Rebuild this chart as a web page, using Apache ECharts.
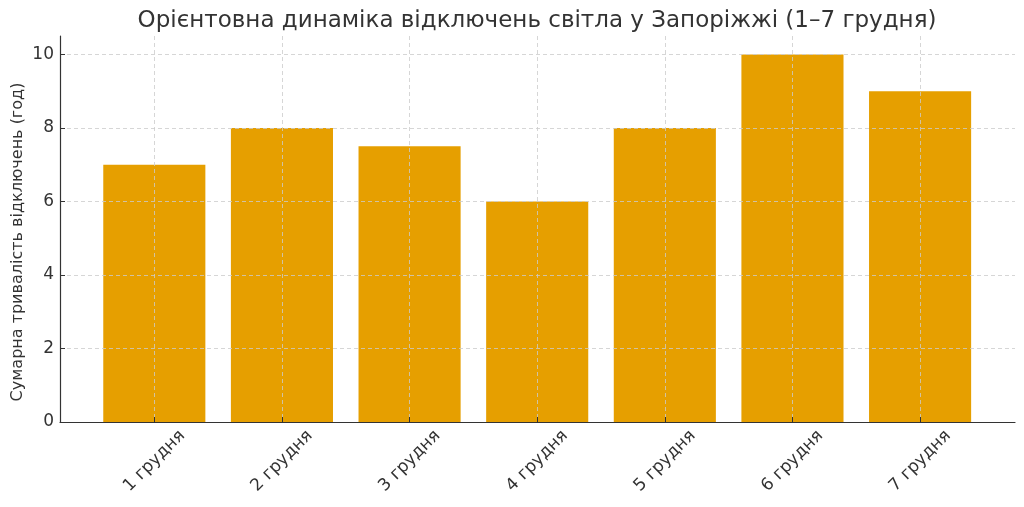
<!DOCTYPE html>
<html>
<head>
<meta charset="utf-8">
<script src="https://cdn.jsdelivr.net/npm/echarts@6/dist/echarts.min.js"></script>
<style>html,body{margin:0;padding:0;background:#fff}#c{width:1024px;height:507px}</style>
</head>
<body>
<div id="c"></div>
<script>
const title = 'Орієнтовна динаміка відключень світла у Запоріжжі (1–7 грудня)';
const yLabel = 'Сумарна тривалість відключень (год)';
const categories = ['1 грудня', '2 грудня', '3 грудня', '4 грудня', '5 грудня', '6 грудня', '7 грудня'];
const hours = [7, 8, 7.5, 6, 8, 10, 9];
const yTickMax = 10;
const yAxisMax = 10.5;
const yTickStep = 2;

const FONT = 'DejaVu Sans';
const TXT = '#333333';
const AX = '#333333';
const GRIDC = '#cccccc';
const chart = echarts.init(document.getElementById('c'), null, {renderer: 'canvas'});

const plotTop = 36, plotBottom = 85, plotLeft = 60, plotRight = 9;
const bandLeft = 90.5, bandRight = 40.1;
const pxPerUnit = (507 - plotTop - plotBottom) / yAxisMax;
const topAtTickMax = 507 - plotBottom - pxPerUnit * yTickMax;

chart.setOption({
  animation: false,
  backgroundColor: '#fff',
  title: {
    text: title, left: 532, top: 5, textAlign: 'center',
    textStyle: {fontFamily: FONT, fontSize: 23, fontWeight: 'normal', color: TXT}
  },
  graphic: [{
    type: 'text', x: 18, y: 242, rotation: Math.PI / 2,
    style: {text: yLabel, fontFamily: FONT, fontSize: 16, fill: TXT, align: 'center', verticalAlign: 'middle'}
  }],
  grid: [
    {left: plotLeft, right: plotRight, top: plotTop, bottom: plotBottom},
    {left: plotLeft, right: plotRight, top: topAtTickMax, bottom: plotBottom},
    {left: bandLeft, right: bandRight, top: plotTop, bottom: plotBottom},
    {left: 154.3, right: 104, top: plotTop, bottom: plotBottom}
  ],
  xAxis: [
    {gridIndex: 0, type: 'value', min: 0, max: 1, z: 6,
     axisLine: {show: true, lineStyle: {color: AX, width: 1.2}},
     axisTick: {show: false}, axisLabel: {show: false}, splitLine: {show: false}},
    {gridIndex: 1, type: 'value', min: 0, max: 1, show: false},
    {gridIndex: 2, type: 'category', data: categories, z: 6,
     axisLine: {show: false}, axisTick: {show: false}, splitLine: {show: false},
     axisLabel: {rotate: 45, align: 'center', verticalAlign: 'middle', margin: 39,
       fontFamily: FONT, fontSize: 17, color: TXT}},
    {gridIndex: 3, type: 'value', min: 0, max: categories.length - 1, interval: 1, z: 5,
     axisLine: {show: false}, axisLabel: {show: false},
     axisTick: {show: true, inside: true, length: 5, lineStyle: {color: AX, width: 1}},
     splitLine: {show: true, lineStyle: {color: GRIDC, type: [4, 3], width: 0.8}}}
  ],
  yAxis: [
    {gridIndex: 0, type: 'value', min: 0, max: yAxisMax, z: 6,
     axisLine: {show: true, lineStyle: {color: AX, width: 1.2}},
     axisTick: {show: false}, axisLabel: {show: false}, splitLine: {show: false}},
    {gridIndex: 1, type: 'value', min: 0, max: yTickMax, interval: yTickStep, z: 5,
     axisLine: {show: false},
     axisTick: {show: true, inside: true, length: 5, lineStyle: {color: AX, width: 1}},
     axisLabel: {margin: 6, fontFamily: FONT, fontSize: 17, color: TXT},
     splitLine: {show: true, lineStyle: {color: GRIDC, type: [4, 3], width: 0.8}}},
    {gridIndex: 2, type: 'value', min: 0, max: yAxisMax, show: false},
    {gridIndex: 3, type: 'value', min: 0, max: 1, show: false}
  ],
  series: [{
    type: 'bar', xAxisIndex: 2, yAxisIndex: 2, data: hours, barWidth: '80%', z: 2,
    itemStyle: {color: '#E69F00'}
  }]
});
</script>
</body>
</html>
